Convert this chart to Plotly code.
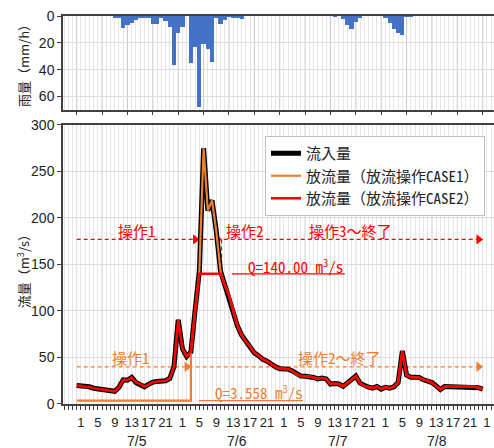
import plotly.graph_objects as go

# ---------------- data (hourly, hour 0 = 7/5 0:00) ----------------
hours = list(range(97))

rain_mm = [
    0, 0, 0, 0, 0, 0, 0, 0, 0, 1.2,
    1.8, 9, 7, 5, 3.2, 1.8, 1.2, 1.2, 6.2, 6.2,
    1.7, 3.8, 8, 36.8, 12.6, 8, 0, 34.8, 23.4, 67.4,
    20.5, 24.2, 34, 1.7, 5.7, 2.7, 0.3, 1.5, 1.5, 2.5,
    0, 0, 0, 0, 0, 0, 0, 0, 0, 0,
    0, 0, 0, 0, 0, 0, 0, 0, 0, 0,
    0, 0.6, 0, 2, 6.6, 9.6, 4.6, 0.8, 0, 0,
    0, 0, 0, 1.3, 5, 9.6, 12.6, 13.9, 0.7, 0.5,
    0, 0, 0, 0, 0, 0, 0, 0, 0, 0,
    0, 0, 0, 0, 0, 0, 0,
]

inflow = [
    19.8, 19.5, 18.2, 18.5, 17, 16.2, 16, 15.3, 14.3, 13.7,
    18, 26, 25.5, 28.6, 23.2, 21.5, 18.5, 21.3, 23.5, 24.2,
    24.2, 25, 27.5, 40, 90.5, 59.5, 51, 56, 101, 143,
    275, 208, 219, 186, 143, 128, 117, 101, 84, 74,
    67, 62, 55, 52, 48, 46, 42.5, 40, 38, 37.5,
    37.5, 35.5, 32, 30, 29.8, 29.5, 28.5, 27, 28, 27,
    21.5, 22, 21.5, 19, 22.5, 26, 30, 22.4, 19.5, 18.1,
    17, 18.8, 16, 18, 17, 18.5, 23, 57, 31, 28.8,
    28.8, 28.5, 26, 25, 23, 19.5, 15.5, 18.8, 18.8, 18.8,
    18.8, 18.8, 18.8, 18.8, 18.5, 17.5, 16,
]

case1_const = 3.558          # CASE1 constant release (m3/s)
case1_switch = [0, 27, 96]   # operation switch hours, CASE1
case1_ops = ["操作1", "操作2～終了"]

case2_cap = 140.0            # CASE2 constant release (m3/s)
case2_switch = [0, 29, 34.25, 96]
case2_ops = ["操作1", "操作2", "操作3～終了"]

hour_ticks = list(range(1, 98, 4))
hour_labels = [str(h % 24) for h in hour_ticks]
day_labels = ["7/5", "7/6", "7/7", "7/8"]
day_centers = [14.2, 38.0, 61.8, 85.3]
major_grid_hours = list(range(0, 97, 6))

# derived outflow series
case1_x = hours[:case1_switch[1] + 1] + hours[case1_switch[1]:]
case1_y = [case1_const] * (case1_switch[1] + 1) + inflow[case1_switch[1]:]
case2_y = [min(q, case2_cap) if case2_switch[1] <= h <= case2_switch[2] else q
           for h, q in zip(hours, inflow)]

# ---------------- styles ----------------
XR = [-3.24, 98.67]
BLUE = "#4472C4"
ORANGE = "#ED7D31"
RED = "#FF0000"
AX = "#404040"
MONO = "Noto Sans Mono CJK JP, Liberation Mono, Noto Sans CJK JP, monospace"
SANS = "Liberation Sans, Arial, sans-serif"
NARROW = "Liberation Sans Narrow, Arial Narrow, Liberation Sans, sans-serif"
CJK = "Noto Sans CJK JP, sans-serif"
RED_LVL, ORG_LVL = 177, 40

fig = go.Figure()

# rain bars
fig.add_trace(go.Bar(x=hours, y=rain_mm, marker=dict(color=BLUE, line=dict(width=0)),
                     width=1, xaxis="x", yaxis="y", showlegend=False, hoverinfo="skip"))

# operation dashed arrows (CASE2 red, CASE1 orange)
for lvl, sw, col in [(RED_LVL, case2_switch, RED), (ORG_LVL, case1_switch, ORANGE)]:
    fig.add_trace(go.Scatter(x=[sw[0], sw[-1]], y=[lvl, lvl], mode="lines",
                             line=dict(color=col, width=1.2, dash="4px,3px"),
                             xaxis="x2", yaxis="y2", showlegend=False, hoverinfo="skip"))
    fig.add_trace(go.Scatter(x=[s - 0.95 for s in sw[1:]], y=[lvl] * (len(sw) - 1),
                             mode="markers",
                             marker=dict(symbol="triangle-right", size=9, color=col),
                             xaxis="x2", yaxis="y2", showlegend=False, hoverinfo="skip"))
for s in case2_switch[1:-1]:
    fig.add_trace(go.Scatter(x=[s, s], y=[RED_LVL, case2_cap], mode="lines",
                             line=dict(color=RED, width=1.2, dash="4px,3px"),
                             xaxis="x2", yaxis="y2", showlegend=False, hoverinfo="skip"))

# Q label underlines
fig.add_trace(go.Scatter(x=[36.7, 63.4], y=[case2_cap, case2_cap], mode="lines",
                         line=dict(color=RED, width=1.2), xaxis="x2", yaxis="y2",
                         showlegend=False, hoverinfo="skip"))
fig.add_trace(go.Scatter(x=[28.9, 53.5], y=[case1_const, case1_const], mode="lines",
                         line=dict(color=ORANGE, width=1.2), xaxis="x2", yaxis="y2",
                         showlegend=False, hoverinfo="skip"))

# hydrographs
fig.add_trace(go.Scatter(x=hours, y=inflow, mode="lines", name="流入量",
                         line=dict(color="black", width=5), xaxis="x2", yaxis="y2"))
fig.add_trace(go.Scatter(x=case1_x, y=case1_y, mode="lines", name="放流量（放流操作CASE1）",
                         line=dict(color=ORANGE, width=2.2), xaxis="x2", yaxis="y2"))
fig.add_trace(go.Scatter(x=hours, y=case2_y, mode="lines", name="放流量（放流操作CASE2）",
                         line=dict(color=RED, width=2.6), xaxis="x2", yaxis="y2"))

# darker 6-hourly grid lines
for xref, yref in [("x", "y domain"), ("x2", "y2 domain")]:
    for g in major_grid_hours:
        fig.add_shape(type="line", x0=g, x1=g, y0=0, y1=1, xref=xref, yref=yref,
                      line=dict(color="#c8c8c8", width=1), layer="below")

ann = []
# operation labels
for t, cx in zip(case2_ops, [14.2, 39.8, 64.8]):
    ann.append(dict(x=cx, y=187, xref="x2", yref="y2", text=t, showarrow=False,
                    font=dict(family=MONO, size=15, color=RED)))
for t, cx in zip(case1_ops, [12.8, 62.2]):
    ann.append(dict(x=cx, y=50.5, xref="x2", yref="y2", text=t, showarrow=False,
                    font=dict(family=MONO, size=15, color=ORANGE)))
ann.append(dict(x=51.8, y=148, xref="x2", yref="y2", showarrow=False,
                text="Q=%.2f m<sup>3</sup>/s" % case2_cap,
                font=dict(family=MONO, size=15, color=RED)))
ann.append(dict(x=43, y=13, xref="x2", yref="y2", showarrow=False,
                text="Q=%.3f m<sup>3</sup>/s" % case1_const,
                font=dict(family=MONO, size=15, color=ORANGE)))
# day labels
for t, c in zip(day_labels, day_centers):
    ann.append(dict(x=c, y=-0.0954, xref="x2", yref="paper", text=t, showarrow=False,
                    xanchor="center", yanchor="middle",
                    font=dict(family=SANS, size=14, color="#222")))
# axis titles
ann.append(dict(x=-0.0928, y=(1 + 0.7577) / 2, xref="paper", yref="paper", textangle=-90,
                xanchor="center", yanchor="middle",
                text="雨量（mm/h）", showarrow=False,
                font=dict(family=CJK, size=13, color="#222")))
ann.append(dict(x=-0.0928, y=0.35, xref="paper", yref="paper", textangle=-90,
                xanchor="center", yanchor="middle",
                text="流量（m<sup>3</sup>/s）", showarrow=False,
                font=dict(family=CJK, size=13, color="#222")))

fig.update_layout(
    width=494, height=448,
    margin=dict(l=63, r=0, t=16, b=44),
    plot_bgcolor="white", paper_bgcolor="white",
    bargap=0,
    annotations=ann,
    legend=dict(x=0.4687, y=0.6907, xanchor="left", yanchor="top",
                bgcolor="white", bordercolor="#bfbfbf", borderwidth=1,
                font=dict(family=MONO, size=15, color="#222"),
                tracegroupgap=0),
    xaxis=dict(domain=[0, 1], range=XR, anchor="y", showticklabels=False,
               tick0=0, dtick=6, ticks="outside", ticklen=3, tickcolor=AX,
               showgrid=False, showline=True, linecolor=AX, linewidth=1.5, mirror=True,
               minor=dict(dtick=1, tick0=0, showgrid=True, gridcolor="#e6e6e6", ticks=""),
               zeroline=False),
    yaxis=dict(domain=[0.7577, 1], range=[70, 0], anchor="x",
               tickvals=[0, 20, 40, 60], ticks="outside", ticklen=4, tickcolor=AX,
               showline=True, linecolor=AX, linewidth=1.5, gridcolor="#dddddd",
               zeroline=False, tickfont=dict(family=SANS, size=14, color="#222")),
    xaxis2=dict(domain=[0, 1], range=XR, anchor="y2",
                tickvals=hour_ticks, ticktext=hour_labels, ticks="", tickangle=0,
                showgrid=False, showline=True, linecolor=AX, linewidth=1.5, mirror=True,
                minor=dict(dtick=1, tick0=0, showgrid=True, gridcolor="#e6e6e6",
                           ticks="outside", ticklen=4, tickcolor=AX),
                ticklabelstandoff=6,
                tickfont=dict(family=NARROW, size=13, color="#222"), zeroline=False),
    yaxis2=dict(domain=[0, 0.7191], range=[0, 300], anchor="x2", dtick=50,
                ticks="outside", ticklen=4, tickcolor=AX,
                showline=True, linecolor=AX, linewidth=1.5, gridcolor="#dddddd",
                zeroline=False, tickfont=dict(family=SANS, size=14, color="#222")),
)

fig.write_html("out.html")
